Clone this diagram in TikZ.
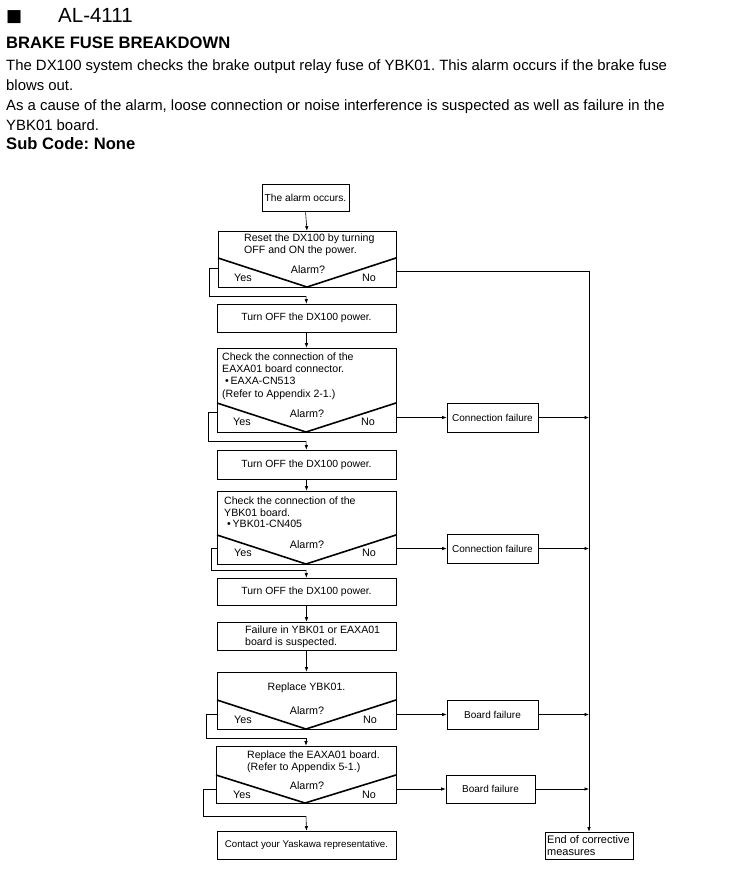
\documentclass[tikz,border=0pt]{standalone}
\usepackage{fontspec}
\setmainfont{Liberation Sans}
\newfontfamily\symfont{DejaVu Sans}
\usetikzlibrary{arrows.meta}
\frenchspacing
\begin{document}
\begin{tikzpicture}[x=1pt,y=-1pt,
  box/.style={draw,line width=0.6pt,inner sep=0pt,font=\fontsize{10.4}{12}\selectfont},
  lbl/.style={inner sep=0pt,font=\fontsize{10.8}{12}\selectfont},
  lblw/.style={inner sep=0pt,anchor=base west,font=\fontsize{10.6}{12}\selectfont},
  hdr/.style={inner sep=0pt,anchor=base west,font=\fontsize{14.9}{20}\selectfont},
  hdrb/.style={inner sep=0pt,anchor=base west,font=\bfseries\fontsize{16.6}{20}\selectfont},
  arr/.style={line width=0.6pt,-{Latex[length=4.5pt,width=3.5pt]}},
  ln/.style={line width=0.6pt},
  vee/.style={line width=1.6pt},
  mainbox/.style={box,minimum width=179},
]
\useasboundingbox (0,0) rectangle (735,887);
% header
\node[inner sep=0pt,anchor=base west,font=\symfont\fontsize{17}{17}\selectfont] (sq) at (6,21.5) {■};
\node[inner sep=0pt,anchor=base west,font=\fontsize{20.5}{23}\selectfont] (code) at (58,22.7) {AL-4111};
\node[hdrb] (title) at (6,48.5) {BRAKE FUSE BREAKDOWN};
\node[hdr] (l1) at (6,70) {The DX100 system checks the brake output relay fuse of YBK01. This alarm occurs if the brake fuse};
\node[hdr] (l2) at (6,90) {blows out.};
\node[hdr] (l3) at (6,110) {As a cause of the alarm, loose connection or noise interference is suspected as well as failure in the};
\node[hdr] (l4) at (6,130) {YBK01 board.};
\node[hdrb] (sub) at (6,149) {Sub Code: None};

% flowchart
\node[box,minimum width=87,minimum height=27,font=\fontsize{10.2}{12}\selectfont] (a0) at (305.5,197.5) {The alarm occurs.};

% reset box
\node[box,minimum width=178,minimum height=56] (b1) at (307,259) {};
\node[lblw] (b1t) at (244,241.5) {Reset the DX100 by turning};
\node[lblw] (b1u) at (244,253.5) {OFF and ON the power.};
\draw[vee] (218,258) -- (307,287) -- (396,258);
\node[lbl] (b1q) at (308,270) {Alarm?};
\node[lbl] (b1y) at (243,278) {Yes};
\node[lbl] (b1n) at (369,278) {No};
\draw[arr] (a0.south) -- (b1.north);

\node[mainbox,minimum height=28] (c1) at (306.5,318) {Turn OFF the DX100 power.};
\coordinate (j1) at (306,296);
\draw[ln] (b1.west |- 0,268) -- (209,268) -- (209,296) -- (j1);
\draw[arr] (j1) -- (c1.north);

% EAXA box
\node[mainbox,minimum height=84] (b2) at (306.5,390) {};
\node[lblw] (b2a) at (222,360.5) {Check the connection of the};
\node[lblw] (b2b) at (222,372.5) {EAXA01 board connector.};
\node[lblw] (b2c) at (222,384.5) {\ •\,EAXA-CN513};
\node[lblw] (b2d) at (222,397.5) {(Refer to Appendix 2-1.)};
\draw[vee] (217,403) -- (306,432) -- (396,403);
\node[lbl] (b2q) at (307,414) {Alarm?};
\node[lbl] (b2y) at (242,422) {Yes};
\node[lbl] (b2n) at (368,422) {No};
\draw[arr] (c1.south) -- (b2.north);

\node[mainbox,minimum height=29] (c2) at (306.5,464.5) {Turn OFF the DX100 power.};
\coordinate (j2) at (306,441);
\draw[ln] (b2.west |- 0,412) -- (208,412) -- (208,441) -- (j2);
\draw[arr] (j2) -- (c2.north);

\node[box,minimum width=91,minimum height=29,font=\fontsize{10}{12}\selectfont] (cf1) at (492.5,417.5) {Connection failure};
\draw[arr] (b2.east |- cf1.west) -- (cf1.west);

% YBK01 box
\node[mainbox,minimum height=73] (b3) at (306.5,527.5) {};
\node[lblw] (b3a) at (224,504.5) {Check the connection of the};
\node[lblw] (b3b) at (224,516.5) {YBK01 board.};
\node[lblw] (b3c) at (224,527.5) {\ •\,YBK01-CN405};
\draw[vee] (217,535) -- (306,564) -- (396,535);
\node[lbl] (b3q) at (307,545) {Alarm?};
\node[lbl] (b3y) at (243,553) {Yes};
\node[lbl] (b3n) at (369,553) {No};
\draw[arr] (c2.south) -- (b3.north);

\node[mainbox,minimum height=27] (c3) at (306.5,591.5) {Turn OFF the DX100 power.};
\coordinate (j3) at (306,570);
\draw[ln] (b3.west |- 0,548) -- (211,548) -- (211,570) -- (j3);
\draw[arr] (j3) -- (c3.north);

\node[box,minimum width=91,minimum height=29,font=\fontsize{10}{12}\selectfont] (cf2) at (492.5,548.5) {Connection failure};
\draw[arr] (b3.east |- cf2.west) -- (cf2.west);

% failure box
\node[mainbox,minimum height=28] (d1) at (306.5,636) {};
\node[lblw] (d1a) at (245,633.5) {Failure in YBK01 or EAXA01};
\node[lblw] (d1b) at (245,645.5) {board is suspected.};
\draw[arr] (c3.south) -- (d1.north);

% replace YBK01
\node[mainbox,minimum height=57] (b4) at (306.5,700.5) {};
\node[lbl,font=\fontsize{10.6}{12}\selectfont] (b4t) at (306.5,687.5) {Replace YBK01.};
\draw[vee] (217,700) -- (306,729) -- (396,700);
\node[lbl] (b4q) at (307,711) {Alarm?};
\node[lbl] (b4y) at (243,720) {Yes};
\node[lbl] (b4n) at (370,720) {No};
\draw[arr] (d1.south) -- (b4.north);

\node[box,minimum width=91,minimum height=29,font=\fontsize{10}{12}\selectfont] (bf1) at (492.5,714.5) {Board failure};
\draw[arr] (b4.east |- bf1.west) -- (bf1.west);

% replace EAXA01
\node[box,minimum width=180,minimum height=57] (b5) at (306,774.5) {};
\node[lblw] (b5a) at (247,758.5) {Replace the EAXA01 board.};
\node[lblw] (b5b) at (247,770.5) {(Refer to Appendix 5-1.)};
\draw[vee] (216,775) -- (305,803) -- (396,775);
\node[lbl] (b5q) at (307,786) {Alarm?};
\node[lbl] (b5y) at (242,795) {Yes};
\node[lbl] (b5n) at (369,795) {No};
\coordinate (j4) at (306,738);
\draw[ln] (b4.west |- 0,714) -- (206,714) -- (206,738) -- (j4);
\draw[arr] (j4) -- (b5.north);

\node[box,minimum width=89,minimum height=28,font=\fontsize{10}{12}\selectfont] (bf2) at (490.5,789) {Board failure};
\draw[arr] (b5.east |- bf2.west) -- (bf2.west);

% contact
\node[mainbox,minimum height=28,font=\fontsize{9.7}{12}\selectfont] (e1) at (306.5,845) {Contact your Yaskawa representative.};
\coordinate (j5) at (306,816);
\draw[ln] (b5.west |- 0,789) -- (203,789) -- (203,816) -- (j5);
\draw[arr] (j5) -- (e1.north);

% end
\node[box,minimum width=88,minimum height=27] (en) at (589,845.5) {};
\node[lblw,font=\fontsize{11}{12}\selectfont] (ena) at (547,843.5) {End of corrective};
\node[lblw,font=\fontsize{11}{12}\selectfont] (enb) at (547,855) {measures};

% right collector
\coordinate (rt) at (589,271);
\draw[ln] (b1.east |- rt) -- (rt);
\draw[arr] (rt) -- (en.north);
\draw[arr] (cf1.east) -- (cf1.east -| rt);
\draw[arr] (cf2.east) -- (cf2.east -| rt);
\draw[arr] (bf1.east) -- (bf1.east -| rt);
\draw[arr] (bf2.east) -- (bf2.east -| rt);
\end{tikzpicture}
\end{document}
